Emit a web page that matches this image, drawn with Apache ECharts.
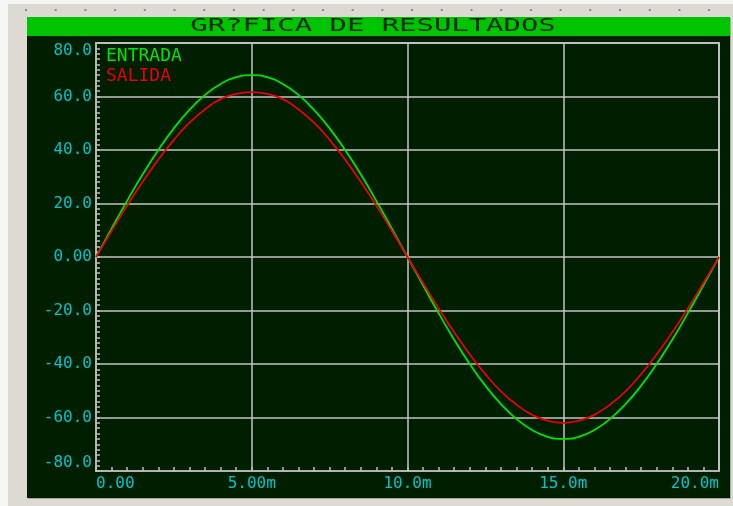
<!DOCTYPE html>
<html><head><meta charset="utf-8">
<script src="https://cdn.jsdelivr.net/npm/echarts@6/dist/echarts.min.js"></script>
<style>html,body{margin:0;padding:0;background:#dcdad2}#c{width:733px;height:506px}</style>
</head><body><div id="c"></div>
<script>
const titleText = 'GR?FICA DE RESULTADOS';
const seriesNames = ['ENTRADA', 'SALIDA'];
// time in ms
const tiempo = [0,0.5,1,1.5,2,2.5,3,3.5,4,4.5,5,5.5,6,6.5,7,7.5,8,8.5,9,9.5,10,10.5,11,11.5,12,12.5,13,13.5,14,14.5,15,15.5,16,16.5,17,17.5,18,18.5,19,19.5,20];
const entrada = [0,10.6,21.0,30.9,40.0,48.1,55.0,60.6,64.7,67.2,68.0,67.2,64.7,60.6,55.0,48.1,40.0,30.9,21.0,10.6,0,-10.6,-21.0,-30.9,-40.0,-48.1,-55.0,-60.6,-64.7,-67.2,-68.0,-67.2,-64.7,-60.6,-55.0,-48.1,-40.0,-30.9,-21.0,-10.6,0];
const salida = [0,9.7,19.2,28.1,36.4,43.8,50.2,55.2,59.0,61.0,61.6,61.0,59.0,55.2,50.2,43.8,36.4,28.1,19.2,9.7,0,-9.7,-19.2,-28.1,-36.4,-43.8,-50.2,-55.2,-59.0,-61.2,-62.0,-61.2,-59.0,-55.2,-50.2,-43.8,-36.4,-28.1,-19.2,-9.7,0];
const xTickLabels = ['0.00','5.00m','10.0m','15.0m','20.0m'];
const yTickLabels = ['80.0','60.0','40.0','20.0','0.00','-20.0','-40.0','-60.0','-80.0'];

const chart = echarts.init(document.getElementById('c'));
const dots = [];
for (let i = 0; i < 24; i++) {
  dots.push({type:'rect', z:-90, silent:true, shape:{x:25 + i*29.7, y:9, width:2, height:2}, style:{fill:'#8a8a8a'}});
}
const font = 'DejaVu Sans Mono';
chart.setOption({
  backgroundColor: '#dcdad2',
  animation: false,
  graphic: [
    {type:'rect', z:-100, silent:true, shape:{x:0,y:0,width:733,height:4}, style:{fill:'#f6f6f4'}},
    {type:'rect', z:-100, silent:true, shape:{x:0,y:0,width:8,height:506}, style:{fill:'#f6f6f4'}},
    {type:'rect', z:-95, silent:true, shape:{x:28,y:18,width:703,height:481}, style:{fill:'#a8a8a0'}},
    {type:'rect', z:-94, silent:true, shape:{x:27,y:17,width:703,height:481}, style:{fill:'#001e00'}},
    {type:'rect', z:-93, silent:true, shape:{x:27,y:17,width:703,height:19}, style:{fill:'#00c400'}},
    {type:'text', z:-92, silent:true, x:373, y:27, scaleX:1.7, originX:0, originY:0,
      style:{text:titleText, fill:'#002a00', fontFamily:font, fontSize:17, align:'center', verticalAlign:'middle'}},
    ...dots
  ],
  legend: {
    data: [
      {name: seriesNames[0], textStyle:{color:'#00e400'}},
      {name: seriesNames[1], textStyle:{color:'#ee0000'}}
    ],
    orient:'vertical', left:101, top:47, padding:0, itemGap:2,
    icon:'none', itemWidth:0, itemHeight:18,
    textStyle:{fontFamily:font, fontSize:18}
  },
  grid: {left:96, top:43, width:623, height:428, show:true, borderColor:'#b4b4b4', borderWidth:2, backgroundColor:'transparent'},
  xAxis: {
    type:'value', min:0, max:20, interval:5,
    axisLine:{show:true, onZero:false, lineStyle:{color:'#b4b4b4', width:2}},
    axisTick:{show:true, inside:true, length:4, lineStyle:{color:'#c0c0c0', width:1.5}},
    minorTick:{show:true, splitNumber:10, length:4, lineStyle:{color:'#c0c0c0', width:1.5}},
    splitLine:{show:true, lineStyle:{color:'#c4c4c4', width:1.5}},
    axisLabel:{color:'#00c4cc', fontFamily:font, fontSize:16, margin:5,
      alignMinLabel:'left', alignMaxLabel:'right',
      formatter: v => xTickLabels[Math.round(v/5)]}
  },
  yAxis: {
    type:'value', min:-80, max:80, interval:20,
    axisLine:{show:true, onZero:false, lineStyle:{color:'#b4b4b4', width:2}},
    axisTick:{show:true, inside:true, length:4, lineStyle:{color:'#c0c0c0', width:1.5}},
    minorTick:{show:true, splitNumber:10, length:4, lineStyle:{color:'#c0c0c0', width:1.5}},
    splitLine:{show:true, lineStyle:{color:'#c4c4c4', width:1.5}},
    axisLabel:{color:'#00c4cc', fontFamily:font, fontSize:16, margin:4,
      verticalAlignMinLabel:'bottom', verticalAlignMaxLabel:'top',
      formatter: v => yTickLabels[Math.round((80 - v)/20)]}
  },
  series: [
    {name:seriesNames[0], type:'line', data: tiempo.map((t,i)=>[t, entrada[i]]), smooth:true, showSymbol:false,
      lineStyle:{color:'#00e400', width:1.8}, itemStyle:{color:'#00e400'}},
    {name:seriesNames[1], type:'line', data: tiempo.map((t,i)=>[t, salida[i]]), smooth:true, showSymbol:false,
      lineStyle:{color:'#ee0000', width:1.8}, itemStyle:{color:'#ee0000'}}
  ]
});
</script></body></html>
